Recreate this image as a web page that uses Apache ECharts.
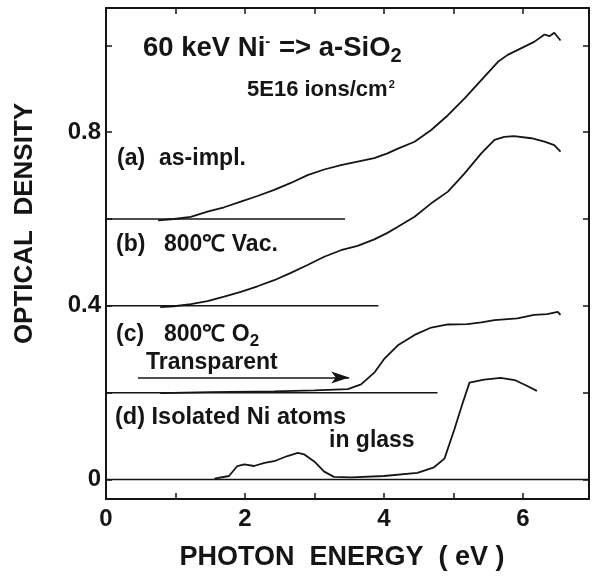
<!DOCTYPE html>
<html>
<head>
<meta charset="utf-8">
<script src="https://cdn.jsdelivr.net/npm/echarts@6/dist/echarts.min.js"></script>
<style>
html,body{margin:0;padding:0;background:#fff;}
#chart{width:594px;height:577px;}
</style>
</head>
<body>
<div id="chart"></div>
<script>
// ---- data (photon energy eV, optical density) ----
var curveA = [[0.75,0.597],[0.98,0.600],[1.22,0.605],[1.46,0.617],[1.70,0.627],[1.94,0.640],[2.18,0.653],[2.42,0.667],[2.66,0.683],[2.90,0.701],[3.14,0.714],[3.38,0.724],[3.62,0.732],[3.86,0.740],[4.05,0.751],[4.20,0.762],[4.44,0.778],[4.68,0.805],[4.92,0.839],[5.16,0.878],[5.40,0.920],[5.64,0.962],[5.78,0.978],[5.97,0.993],[6.16,1.008],[6.31,1.025],[6.38,1.021],[6.45,1.029],[6.54,1.011]];
var curveB = [[0.78,0.397],[0.98,0.399],[1.22,0.404],[1.46,0.411],[1.70,0.421],[1.94,0.432],[2.18,0.445],[2.42,0.459],[2.66,0.476],[2.90,0.494],[3.14,0.513],[3.38,0.528],[3.62,0.538],[3.86,0.553],[4.05,0.568],[4.20,0.582],[4.44,0.605],[4.68,0.636],[4.92,0.663],[5.16,0.705],[5.40,0.751],[5.59,0.782],[5.73,0.789],[5.87,0.791],[6.12,0.786],[6.31,0.778],[6.45,0.770],[6.54,0.755]];
var curveC = [[0.78,0.199],[1.50,0.201],[2.42,0.203],[3.00,0.205],[3.48,0.208],[3.67,0.219],[3.86,0.246],[4.00,0.277],[4.20,0.309],[4.44,0.333],[4.68,0.350],[4.92,0.357],[5.20,0.358],[5.40,0.362],[5.59,0.367],[5.92,0.371],[6.16,0.379],[6.35,0.381],[6.50,0.386],[6.54,0.379]];
var curveD = [[1.56,0.002],[1.77,0.008],[1.89,0.031],[1.99,0.035],[2.13,0.031],[2.28,0.038],[2.42,0.042],[2.61,0.054],[2.76,0.061],[2.85,0.058],[3.00,0.041],[3.14,0.018],[3.28,0.006],[3.53,0.005],[4.00,0.008],[4.48,0.015],[4.72,0.028],[4.87,0.048],[5.01,0.114],[5.13,0.175],[5.23,0.223],[5.44,0.230],[5.68,0.234],[5.88,0.229],[6.04,0.217],[6.20,0.204]];
var baselineLevels = [0.6, 0.4, 0.2, 0];
var baselineEnds = [3.44, 3.92, 4.77, 6.95];
var arrowFrom = [0.46, 0.235];
var arrowTo = [3.50, 0.235];
var xTicks = [1, 2, 3, 4, 5, 6];
var xLabels = [0, 2, 4, 6];
var yTicks = [0, 0.2, 0.4, 0.6, 0.8, 1.0];
var yLabels = [0, 0.4, 0.8];

var INK = '#151515';
var FONT = '"Liberation Sans", Arial, Helvetica, sans-serif';

var chart = echarts.init(document.getElementById('chart'), null, {renderer: 'canvas'});

function lineSeries(data, w) {
  return {type: 'line', data: data, showSymbol: false, symbol: 'none', smooth: false,
    lineStyle: {color: INK, width: w}, itemStyle: {color: INK}, silent: true, z: 3};
}

var series = [lineSeries(curveA, 1.8), lineSeries(curveB, 1.8), lineSeries(curveC, 1.8), lineSeries(curveD, 1.8)];
for (var i = 0; i < baselineLevels.length; i++) {
  series.push(lineSeries([[0, baselineLevels[i]], [baselineEnds[i], baselineLevels[i]]], 1.5));
}
series.push({
  type: 'line', data: [], silent: true,
  markLine: {
    silent: true, symbol: ['none', 'arrow'], symbolSize: [9, 18],
    label: {show: false},
    lineStyle: {type: 'solid', color: INK, width: 1.5},
    data: [[{coord: arrowFrom}, {coord: arrowTo}]]
  }
});

var tickStyle = {show: true, inside: true, length: 6, lineStyle: {color: INK, width: 1.5}};
var axisLineStyle = {show: true, onZero: false, lineStyle: {color: INK, width: 2}};
var labelFont = {fontFamily: FONT, fontWeight: 'bold', fontSize: 24, color: INK};

function txt(x, y, s, size) {
  return {type: 'text', x: x, y: y, silent: true,
    style: {text: s, verticalAlign: 'middle', fill: INK, font: 'bold ' + size + 'px ' + FONT}};
}

var option = {
  animation: false,
  backgroundColor: '#fff',
  grid: {left: 106, right: 5, top: 8, bottom: 78, containLabel: false},
  xAxis: [{
    type: 'value', min: 0, max: 6.95, position: 'bottom',
    name: 'PHOTON  ENERGY  ( eV )', nameLocation: 'middle', nameGap: 45,
    nameTextStyle: {fontFamily: FONT, fontWeight: 'bold', fontSize: 27, color: INK, padding: [0, 11, 0, 0]},
    axisLine: axisLineStyle,
    axisTick: Object.assign({customValues: xTicks}, tickStyle),
    axisLabel: Object.assign({customValues: xLabels, margin: 8, formatter: function (v) { return String(v); }}, labelFont),
    splitLine: {show: false}
  }, {
    type: 'value', min: 0, max: 6.95, position: 'top',
    axisLine: axisLineStyle,
    axisTick: Object.assign({customValues: xTicks}, tickStyle),
    axisLabel: {show: false}, splitLine: {show: false}
  }],
  yAxis: [{
    type: 'value', min: -0.045, max: 1.086, position: 'left',
    name: 'OPTICAL  DENSITY', nameLocation: 'middle', nameGap: 68, nameRotate: 90,
    nameTextStyle: {fontFamily: FONT, fontWeight: 'bold', fontSize: 26, color: INK, padding: [0, 0, 0, 60]},
    axisLine: axisLineStyle,
    axisTick: Object.assign({customValues: yTicks}, tickStyle),
    axisLabel: Object.assign({customValues: yLabels, margin: 5, formatter: function (v) { return String(v); }}, labelFont),
    splitLine: {show: false}
  }, {
    type: 'value', min: -0.045, max: 1.086, position: 'right',
    axisLine: axisLineStyle,
    axisTick: Object.assign({customValues: yTicks}, tickStyle),
    axisLabel: {show: false}, splitLine: {show: false}
  }],
  graphic: [
    {type: 'text', x: 143, y: 48, silent: true, style: {
      text: '{m|60 keV Ni}{sup|-}{m| => a-SiO}{sub|2}', verticalAlign: 'middle', fill: INK,
      rich: {
        m: {fontFamily: FONT, fontWeight: 'bold', fontSize: 27.5, lineHeight: 36, fill: INK},
        sup: {fontFamily: FONT, fontWeight: 'bold', fontSize: 15, lineHeight: 36, verticalAlign: 'top', padding: [4, 1, 0, 0], fill: INK},
        sub: {fontFamily: FONT, fontWeight: 'bold', fontSize: 20, lineHeight: 36, verticalAlign: 'bottom', fill: INK}
      }}},
    {type: 'text', x: 247, y: 90, silent: true, style: {
      text: '{m|5E16 ions/cm}{sup|2}', verticalAlign: 'middle', fill: INK,
      rich: {
        m: {fontFamily: FONT, fontWeight: 'bold', fontSize: 22, lineHeight: 28, fill: INK},
        sup: {fontFamily: FONT, fontWeight: 'bold', fontSize: 11, lineHeight: 28, verticalAlign: 'top', padding: [3, 0, 0, 1], fill: INK}
      }}},
    txt(117, 159, '(a)', 23),
    txt(159, 159, 'as-impl.', 23),
    txt(116, 245, '(b)', 23),
    txt(164, 245, '800\u2103 Vac.', 23),
    txt(116, 335, '(c)', 23),
    {type: 'text', x: 164, y: 335, silent: true, style: {
      text: '{m|800\u2103 O}{sub|2}', verticalAlign: 'middle', fill: INK,
      rich: {
        m: {fontFamily: FONT, fontWeight: 'bold', fontSize: 23, lineHeight: 30, fill: INK},
        sub: {fontFamily: FONT, fontWeight: 'bold', fontSize: 17, lineHeight: 30, verticalAlign: 'bottom', fill: INK}
      }}},
    txt(146, 363, 'Transparent', 23),
    txt(115, 418, '(d) Isolated Ni atoms', 23.5),
    txt(329, 441, 'in glass', 23)
  ],
  series: series
};
chart.setOption(option);
</script>
</body>
</html>
